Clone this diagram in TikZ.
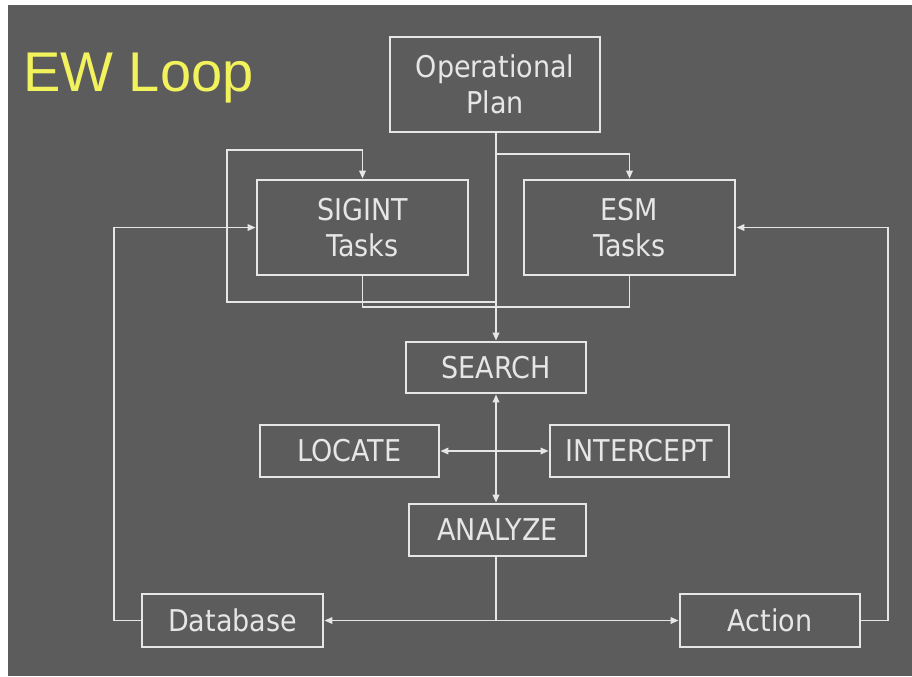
\documentclass[tikz,border=0pt]{standalone}
\usepackage{fontspec}
\setmainfont{DejaVu Sans Condensed}
\newfontfamily\titlefont{Liberation Sans}
\usetikzlibrary{arrows.meta}
\definecolor{bggrey}{HTML}{5C5C5C}
\definecolor{linegrey}{HTML}{E6E6E6}
\definecolor{titleyellow}{HTML}{F2F25C}
\tikzset{
  box/.style={draw=linegrey, line width=2.2pt, text=linegrey, align=center, inner sep=0pt,
    font=\fontsize{22.5}{27}\selectfont},
  conn/.style={draw=linegrey, line width=1.1pt},
  arr/.style={conn, -{Triangle[length=6pt,width=5pt]}},
  darr/.style={conn, {Triangle[length=6pt,width=5pt]}-{Triangle[length=6pt,width=5pt]}},
}
\begin{document}
\begin{tikzpicture}[x=0.75pt,y=-0.75pt]
\fill[white] (0,0) rectangle (912,676);
\fill[bggrey] (8,5) rectangle (912,676);
\useasboundingbox (0,0) rectangle (912,676);

\node[anchor=base west, text=titleyellow, font=\titlefont\fontsize{42}{48}\selectfont, inner sep=0pt] (title) at (23,91) {EW Loop};

\node[box, minimum width=157.5pt, minimum height=71.25pt] (op) at (495,84.5) {Operational\\Plan};
\node[box, minimum width=158.25pt, minimum height=71.25pt] (sig) at (362.5,227.5) {SIGINT\\Tasks};
\node[box, minimum width=158.25pt, minimum height=71.25pt] (esm) at (629.5,227.5) {ESM\\Tasks};
\node[box, minimum width=135pt, minimum height=38.25pt] (search) at (496,367.5) {SEARCH};
\node[box, minimum width=134.25pt, minimum height=39pt] (locate) at (349.5,451) {LOCATE};
\node[box, minimum width=134.25pt, minimum height=39pt] (intercept) at (639.5,451) {INTERCEPT};
\node[box, minimum width=132.75pt, minimum height=39pt] (analyze) at (497.5,530) {ANALYZE};
\node[box, minimum width=135.75pt, minimum height=39.75pt] (database) at (232.5,620.5) {Database};
\node[box, minimum width=135pt, minimum height=39.75pt] (action) at (770,620.5) {Action};

\coordinate (jesm) at (496,154);
\coordinate (jloop) at (496,302);
\coordinate (lcorner) at (227,302);
\coordinate (ltop) at (227,150);
\coordinate (jtask) at (496,307);
\coordinate (jbot) at (496,620.5);
\coordinate (dbl) at (114,620.5);
\coordinate (acr) at (888,620.5);

% operational plan down to search
\draw[arr] (op.south -| search.north) -- (search.north);
% branch to ESM
\draw[arr] (jesm) -| (esm.north);
% SIGINT loop
\draw[arr] (jloop) -- (lcorner) -- (ltop) -| (sig.north);
% tasks bottoms
\draw[conn] (sig.south) |- (jtask);
\draw[conn] (esm.south) |- (jtask);
% search <-> analyze
\draw[darr] (search.south) -- (analyze.north -| search.south);
% locate <-> intercept
\draw[darr] (locate.east) -- (intercept.west);
% analyze to database and action
\draw[conn] (analyze.south -| jbot) -- (jbot);
\draw[arr] (jbot) -- (database.east);
\draw[arr] (jbot) -- (action.west);
% feedback loops
\draw[arr] (database.west) -- (dbl) |- (sig.west);
\draw[arr] (action.east) -- (acr) |- (esm.east);
\end{tikzpicture}
\end{document}
